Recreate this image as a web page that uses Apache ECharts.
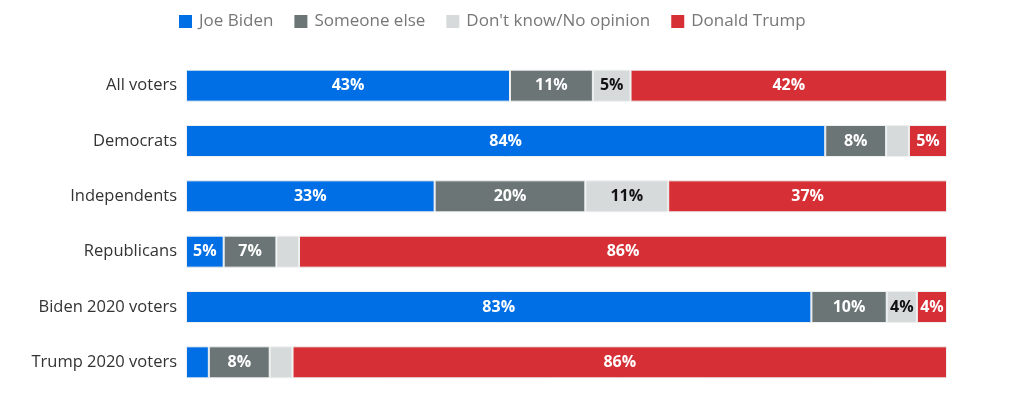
<!DOCTYPE html>
<html><head><meta charset="utf-8">
<script src="https://cdn.jsdelivr.net/npm/echarts@6/dist/echarts.min.js"></script>
<style>html,body{margin:0;padding:0;background:#fff}#c{width:1027px;height:394px}</style>
</head><body><div id="c"></div>
<script>
const categories = ['All voters','Democrats','Independents','Republicans','Biden 2020 voters','Trump 2020 voters'];
const seriesNames = ['Joe Biden','Someone else',"Don't know/No opinion",'Donald Trump'];
const biden   = [43, 84, 33, 5, 83, 3];
const someone = [11, 8, 20, 7, 10, 8];
const dontKnow= [5, 3, 11, 3, 4, 3];
const trump   = [42, 5, 37, 86, 4, 86];
const colors = ['#006fe6','#6b7576','#d7dadb','#d62f35'];
const labelColors = ['#fff','#fff','#111','#fff'];

const raw = [biden, someone, dontKnow, trump];
const totals = categories.map((_, i) => raw.reduce((s, a) => s + a[i], 0));
const FONT = '"Open Sans", sans-serif';

const chart = echarts.init(document.getElementById('c'));
chart.setOption({
  animation: false,
  legend: {
    top: 8, left: 174, itemWidth: 13, itemHeight: 13, itemGap: 21,
    icon: 'rect',
    itemStyle: { borderWidth: 0 },
    textStyle: { color: '#777', fontSize: 17, fontFamily: FONT, padding: [0, 0, 0, 2] },
    data: seriesNames
  },
  grid: { left: 186, right: 80, top: 58, bottom: 4 },
  xAxis: { type: 'value', min: 0, max: 100, show: false },
  yAxis: {
    type: 'category', inverse: true, data: categories,
    axisLine: { show: false }, axisTick: { show: false },
    axisLabel: { color: '#333', fontSize: 16.5, fontFamily: FONT, margin: 9 }
  },
  series: raw.map((arr, k) => ({
    name: seriesNames[k], type: 'bar', stack: 'all', barWidth: 32,
    itemStyle: { color: colors[k], borderColor: '#eef0f0', borderWidth: 1 },
    label: {
      show: true, position: 'inside', color: labelColors[k],
      fontSize: 16, fontWeight: 'bold', fontFamily: FONT,
      formatter: p => arr[p.dataIndex] >= 4 ? arr[p.dataIndex] + '%' : ''
    },
    data: arr.map((v, i) => v / totals[i] * 100)
  }))
});
</script></body></html>
